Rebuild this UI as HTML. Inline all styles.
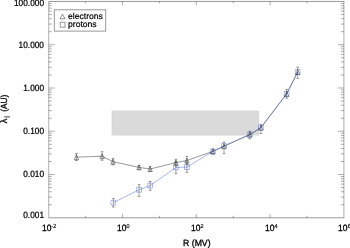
<!DOCTYPE html><html><head><meta charset="utf-8"><style>html,body{margin:0;padding:0;background:#fff}body{width:350px;height:248px;overflow:hidden;position:relative}</style></head><body><svg width="350" height="248" viewBox="0 0 350 248" style="position:absolute;left:0;top:0" text-rendering="geometricPrecision">
<rect x="111.78" y="110.76" width="147.13" height="24.59" fill="#dbdada" stroke="#000" stroke-opacity="0.05" stroke-width="0.8"/>
<path d="M48.25 1.45H344.4M48.25 217.8H344.4" fill="none" stroke="#000" stroke-width="1" stroke-opacity="0.4"/>
<path d="M48.75 1.95V217.3M343.9 1.95V217.3" fill="none" stroke="#000" stroke-width="1" stroke-opacity="0.32"/>
<path d="M85.64 217.8v-2M85.64 1.45v2M122.54 217.8v-4M122.54 1.45v4M159.43 217.8v-2M159.43 1.45v2M196.32 217.8v-4M196.32 1.45v4M233.22 217.8v-2M233.22 1.45v2M270.11 217.8v-4M270.11 1.45v4M307.01 217.8v-2M307.01 1.45v2M48.75 204.77h3M343.9 204.77h-3M48.75 197.15h3M343.9 197.15h-3M48.75 191.75h3M343.9 191.75h-3M48.75 187.56h3M343.9 187.56h-3M48.75 184.13h3M343.9 184.13h-3M48.75 181.23h3M343.9 181.23h-3M48.75 178.72h3M343.9 178.72h-3M48.75 176.51h3M343.9 176.51h-3M48.75 174.53h6M343.9 174.53h-6M48.75 161.50h3M343.9 161.50h-3M48.75 153.88h3M343.9 153.88h-3M48.75 148.48h3M343.9 148.48h-3M48.75 144.29h3M343.9 144.29h-3M48.75 140.86h3M343.9 140.86h-3M48.75 137.96h3M343.9 137.96h-3M48.75 135.45h3M343.9 135.45h-3M48.75 133.24h3M343.9 133.24h-3M48.75 131.26h6M343.9 131.26h-6M48.75 118.23h3M343.9 118.23h-3M48.75 110.61h3M343.9 110.61h-3M48.75 105.21h3M343.9 105.21h-3M48.75 101.02h3M343.9 101.02h-3M48.75 97.59h3M343.9 97.59h-3M48.75 94.69h3M343.9 94.69h-3M48.75 92.18h3M343.9 92.18h-3M48.75 89.97h3M343.9 89.97h-3M48.75 87.99h6M343.9 87.99h-6M48.75 74.96h3M343.9 74.96h-3M48.75 67.34h3M343.9 67.34h-3M48.75 61.94h3M343.9 61.94h-3M48.75 57.75h3M343.9 57.75h-3M48.75 54.32h3M343.9 54.32h-3M48.75 51.42h3M343.9 51.42h-3M48.75 48.91h3M343.9 48.91h-3M48.75 46.70h3M343.9 46.70h-3M48.75 44.72h6M343.9 44.72h-6M48.75 31.69h3M343.9 31.69h-3M48.75 24.07h3M343.9 24.07h-3M48.75 18.67h3M343.9 18.67h-3M48.75 14.48h3M343.9 14.48h-3M48.75 11.05h3M343.9 11.05h-3M48.75 8.15h3M343.9 8.15h-3M48.75 5.64h3M343.9 5.64h-3M48.75 3.43h3M343.9 3.43h-3" stroke="#000" stroke-width="0.8" stroke-opacity="0.4" fill="none"/>
<polyline points="76.4,157.2 102.1,156.2 113.0,161.7 139,167.4 150.1,169.0 175.9,162.6 186.9,160.5 212.8,151.4 224,146.3 249.8,134.6 260.9,127.7 286.6,93.9 297.7,72.0" fill="none" stroke="#000" stroke-width="0.8" stroke-opacity="0.5"/>
<polyline points="113.3,202.7 139.1,189.8 150.1,185.6 175.9,167.5 186.9,167.1 212.8,151.5 224,145.8 249.8,134.6 260.9,127.7 286.6,93.9 297.7,72.0" fill="none" stroke="#2d4bb9" stroke-width="0.8" stroke-opacity="0.5"/>
<path d="M76.4 153.4V160.6M75.0 153.4h2.8M75.0 160.6h2.8M102.1 151.7V160.3M100.69999999999999 151.7h2.8M100.69999999999999 160.3h2.8M113.0 158.4V164.9M111.6 158.4h2.8M111.6 164.9h2.8M139 165.4V169.3M137.6 165.4h2.8M137.6 169.3h2.8M150.1 166.4V171.2M148.7 166.4h2.8M148.7 171.2h2.8M175.9 159.3V166.0M174.5 159.3h2.8M174.5 166.0h2.8M186.9 156.4V164.4M185.5 156.4h2.8M185.5 164.4h2.8M212.8 149V154M211.4 149h2.8M211.4 154h2.8M224 142V153.5M222.6 142h2.8M222.6 153.5h2.8M249.8 131.3V138.8M248.4 131.3h2.8M248.4 138.8h2.8M260.9 124.3V133.5M259.5 124.3h2.8M259.5 133.5h2.8M286.6 89.4V98.2M285.20000000000005 89.4h2.8M285.20000000000005 98.2h2.8M297.7 67.1V78.3M296.3 67.1h2.8M296.3 78.3h2.8M113.3 198.4V207.1M111.89999999999999 198.4h2.8M111.89999999999999 207.1h2.8M139.1 184.6V196.4M137.7 184.6h2.8M137.7 196.4h2.8M150.1 181.5V190.4M148.7 181.5h2.8M148.7 190.4h2.8M175.9 162V173.5M174.5 162h2.8M174.5 173.5h2.8M186.9 162V172.3M185.5 162h2.8M185.5 172.3h2.8" stroke="#000" stroke-width="0.8" stroke-opacity="0.45" fill="none"/>
<path d="M76.4 154.7L78.60000000000001 159.7H74.2ZM102.1 153.7L104.3 158.7H99.89999999999999ZM113.0 159.2L115.2 164.2H110.8ZM139 164.9L141.2 169.9H136.8ZM150.1 166.5L152.29999999999998 171.5H147.9ZM175.9 160.1L178.1 165.1H173.70000000000002ZM186.9 158.0L189.1 163.0H184.70000000000002ZM212.8 148.9L215.0 153.9H210.60000000000002ZM224 143.8L226.2 148.8H221.8ZM249.8 132.1L252.0 137.1H247.60000000000002ZM260.9 125.2L263.09999999999997 130.2H258.7ZM286.6 91.4L288.8 96.4H284.40000000000003ZM297.7 69.5L299.9 74.5H295.5Z" stroke="#000" stroke-width="0.8" stroke-opacity="0.5" fill="none"/>
<path d="M110.89999999999999 200.29999999999998h4.8v4.8h-4.8ZM136.7 187.4h4.8v4.8h-4.8ZM147.7 183.2h4.8v4.8h-4.8ZM173.5 165.1h4.8v4.8h-4.8ZM184.5 164.7h4.8v4.8h-4.8ZM210.4 149.1h4.8v4.8h-4.8ZM221.6 143.4h4.8v4.8h-4.8ZM247.4 132.2h4.8v4.8h-4.8ZM258.5 125.3h4.8v4.8h-4.8ZM284.20000000000005 91.5h4.8v4.8h-4.8ZM295.3 69.6h4.8v4.8h-4.8Z" stroke="#2d4bb9" stroke-width="0.8" stroke-opacity="0.45" fill="none"/>
<rect x="54.3" y="9.8" width="51.4" height="21.3" fill="#fff" stroke="#000" stroke-width="0.9" stroke-opacity="0.45"/>
<path d="M62.5 14.2L65 18.8H60Z" stroke="#000" stroke-width="0.8" stroke-opacity="0.55" fill="none"/>
<rect x="60.2" y="22.2" width="4.8" height="5" stroke="#000" stroke-width="0.8" stroke-opacity="0.5" fill="none"/>
<text x="68" y="18.7" font-size="8.6" font-family="Liberation Sans, Arial, sans-serif" fill="#000" stroke="#000" stroke-width="0.2">electrons</text>
<text x="68" y="27" font-size="8.6" font-family="Liberation Sans, Arial, sans-serif" fill="#000" stroke="#000" stroke-width="0.2">protons</text>
<text transform="translate(44,6.35) scale(1,1.1)" font-size="8.3" text-anchor="end" font-family="Liberation Sans, Arial, sans-serif" fill="#000" stroke="#000" stroke-width="0.22">100.000</text>
<text transform="translate(44,47.62) scale(1,1.1)" font-size="8.3" text-anchor="end" font-family="Liberation Sans, Arial, sans-serif" fill="#000" stroke="#000" stroke-width="0.22">10.000</text>
<text transform="translate(44,90.89) scale(1,1.1)" font-size="8.3" text-anchor="end" font-family="Liberation Sans, Arial, sans-serif" fill="#000" stroke="#000" stroke-width="0.22">1.000</text>
<text transform="translate(44,134.16) scale(1,1.1)" font-size="8.3" text-anchor="end" font-family="Liberation Sans, Arial, sans-serif" fill="#000" stroke="#000" stroke-width="0.22">0.100</text>
<text transform="translate(44,177.43) scale(1,1.1)" font-size="8.3" text-anchor="end" font-family="Liberation Sans, Arial, sans-serif" fill="#000" stroke="#000" stroke-width="0.22">0.010</text>
<text transform="translate(44,218.40) scale(1,1.1)" font-size="8.3" text-anchor="end" font-family="Liberation Sans, Arial, sans-serif" fill="#000" stroke="#000" stroke-width="0.22">0.001</text>
<text transform="translate(41.9,230.8) scale(1,1.08)" font-size="8.5" font-family="Liberation Sans, Arial, sans-serif" fill="#000" stroke="#000" stroke-width="0.3">10<tspan font-size="5.4" dx="0.2" dy="-3.0" stroke-width="0.15">-2</tspan></text>
<text transform="translate(116.9,230.8) scale(1,1.08)" font-size="8.5" font-family="Liberation Sans, Arial, sans-serif" fill="#000" stroke="#000" stroke-width="0.3">10<tspan font-size="5.4" dx="0.2" dy="-3.0" stroke-width="0.15">0</tspan></text>
<text transform="translate(190.9,230.8) scale(1,1.08)" font-size="8.5" font-family="Liberation Sans, Arial, sans-serif" fill="#000" stroke="#000" stroke-width="0.3">10<tspan font-size="5.4" dx="0.2" dy="-3.0" stroke-width="0.15">2</tspan></text>
<text transform="translate(264.9,230.8) scale(1,1.08)" font-size="8.5" font-family="Liberation Sans, Arial, sans-serif" fill="#000" stroke="#000" stroke-width="0.3">10<tspan font-size="5.4" dx="0.2" dy="-3.0" stroke-width="0.15">4</tspan></text>
<text transform="translate(338.1,230.8) scale(1,1.08)" font-size="8.5" font-family="Liberation Sans, Arial, sans-serif" fill="#000" stroke="#000" stroke-width="0.3">10<tspan font-size="5.4" dx="0.2" dy="-3.0" stroke-width="0.15">6</tspan></text>
<text transform="translate(196.8,245.9) scale(1,1.04)" font-size="8.7" text-anchor="middle" font-family="Liberation Sans, Arial, sans-serif" fill="#000" stroke="#000" stroke-width="0.28">R (MV)</text>
<g transform="translate(7.0,123.3) rotate(-90) scale(1,1.08)" font-size="8.3"><text x="0" y="0" font-size="9.2" font-family="Liberation Sans, Arial, sans-serif" fill="#000" stroke="#000" stroke-width="0.25">λ</text><text x="4.7" y="2.6" font-size="7.5" font-family="Liberation Sans, Arial, sans-serif" fill="#000" stroke="#000" stroke-width="0" fill-opacity="0.6">‖</text><text x="11.6" y="0" font-family="Liberation Sans, Arial, sans-serif" fill="#000" stroke="#000" stroke-width="0.28">(AU)</text></g>
</svg></body></html>
